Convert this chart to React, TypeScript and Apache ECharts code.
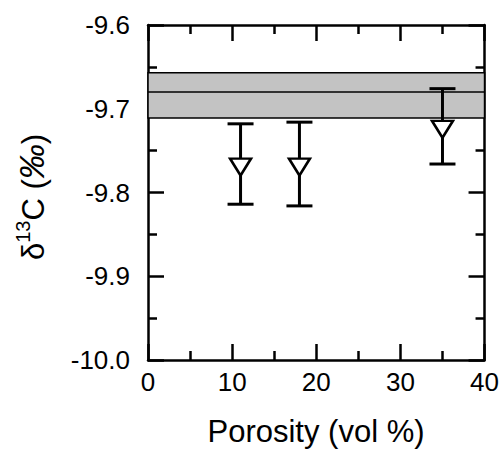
import React, { useEffect, useRef } from "react";
import * as echarts from "echarts";

const porosity = [11, 18, 35];
const delta13C = [-9.766, -9.766, -9.721];
const errors = [0.048, 0.05, 0.045];
const bandLow = -9.711;
const bandHigh = -9.657;
const bandMid = -9.684;
const xTicks = [0, 10, 20, 30, 40];
const yTicks = [-10.0, -9.9, -9.8, -9.7, -9.6];

const FONT = "Liberation Sans";

export default function App() {
  const ref = useRef<HTMLDivElement>(null);
  useEffect(() => {
    if (!ref.current) return;
    const chart = echarts.init(ref.current, undefined, { renderer: "svg" });
    const common = () => ({
      axisLine: { show: true, onZero: false, lineStyle: { color: "#000", width: 2.5 } },
      axisTick: { show: true, inside: true, length: 16, lineStyle: { color: "#000", width: 2.5 } },
      minorTick: { show: true, splitNumber: 2, length: 9, lineStyle: { color: "#000", width: 2.5 } },
      splitLine: { show: false },
      minorSplitLine: { show: false },
    });
    const xAx = (pos: string, show: boolean) => ({
      type: "value",
      position: pos,
      min: xTicks[0],
      max: xTicks[xTicks.length - 1],
      interval: xTicks[1] - xTicks[0],
      ...common(),
      axisLabel: { show, color: "#000", fontFamily: FONT, fontSize: 26, margin: 9 },
    });
    const yAx = (pos: string, show: boolean) => ({
      type: "value",
      position: pos,
      min: yTicks[0],
      max: yTicks[yTicks.length - 1],
      interval: 0.1,
      ...common(),
      axisLabel: {
        show,
        color: "#000",
        fontFamily: FONT,
        fontSize: 26,
        margin: 18,
        formatter: (v: number) => v.toFixed(1),
      },
    });
    const errData = porosity.map((x, i) => [x, delta13C[i] - errors[i], delta13C[i] + errors[i]]);
    chart.setOption({
      animation: false,
      backgroundColor: "#fff",
      grid: { left: 148, right: 17, top: 25, bottom: 89, containLabel: false },
      xAxis: [xAx("bottom", true), xAx("top", false)],
      yAxis: [yAx("left", true), yAx("right", false)],
      graphic: [
        {
          type: "text",
          x: 31,
          y: 197,
          rotation: Math.PI / 2,
          style: {
            text: "{a|δ}{s|13}{a|C (}{p|‰}{a|)}",
            align: "center",
            verticalAlign: "middle",
            fill: "#000",
            rich: {
              a: { fontFamily: FONT, fontSize: 31, fill: "#000", verticalAlign: "bottom", lineHeight: 36 },
              s: { fontFamily: FONT, fontSize: 20, fill: "#000", verticalAlign: "top", lineHeight: 36 },
              p: { fontFamily: FONT, fontSize: 35, fontStyle: "italic", fill: "#000", verticalAlign: "bottom", lineHeight: 36 },
            },
          },
        },
        {
          type: "text",
          x: 316,
          y: 431,
          style: {
            text: "Porosity (vol %)",
            align: "center",
            verticalAlign: "middle",
            fontFamily: FONT,
            fontSize: 31,
            fill: "#000",
          },
        },
      ],
      series: [
        {
          type: "line",
          data: [],
          silent: true,
          markArea: {
            silent: true,
            itemStyle: { color: "#c3c3c3", borderColor: "#000", borderWidth: 1.5 },
            data: [[{ yAxis: bandHigh }, { yAxis: bandLow }]],
          },
          markLine: {
            silent: true,
            symbol: "none",
            label: { show: false },
            lineStyle: { color: "#000", width: 1.5, type: "solid" },
            data: [{ yAxis: bandMid }],
          },
        },
        {
          type: "custom",
          z: 3,
          data: errData,
          renderItem: (params: any, api: any) => {
            const x = api.value(0);
            const lo = api.coord([x, api.value(1)]);
            const hi = api.coord([x, api.value(2)]);
            const hw = 13;
            const st = { stroke: "#000", lineWidth: 3 };
            return {
              type: "group",
              children: [
                { type: "line", shape: { x1: lo[0], y1: lo[1], x2: hi[0], y2: hi[1] }, style: st },
                { type: "line", shape: { x1: lo[0] - hw, y1: lo[1], x2: lo[0] + hw, y2: lo[1] }, style: st },
                { type: "line", shape: { x1: hi[0] - hw, y1: hi[1], x2: hi[0] + hw, y2: hi[1] }, style: st },
              ],
            };
          },
        },
        {
          type: "scatter",
          z: 5,
          symbol: "triangle",
          symbolRotate: 180,
          symbolSize: [21, 17],
          symbolOffset: [0, 3],
          itemStyle: { color: "#fff", borderColor: "#000", borderWidth: 2.5, opacity: 1 },
          data: porosity.map((x, i) => [x, delta13C[i]]),
        },
      ],
    });
    return () => chart.dispose();
  }, []);
  return <div ref={ref} style={{ position: "fixed", left: 0, top: 0, width: 502, height: 449 }} />;
}
